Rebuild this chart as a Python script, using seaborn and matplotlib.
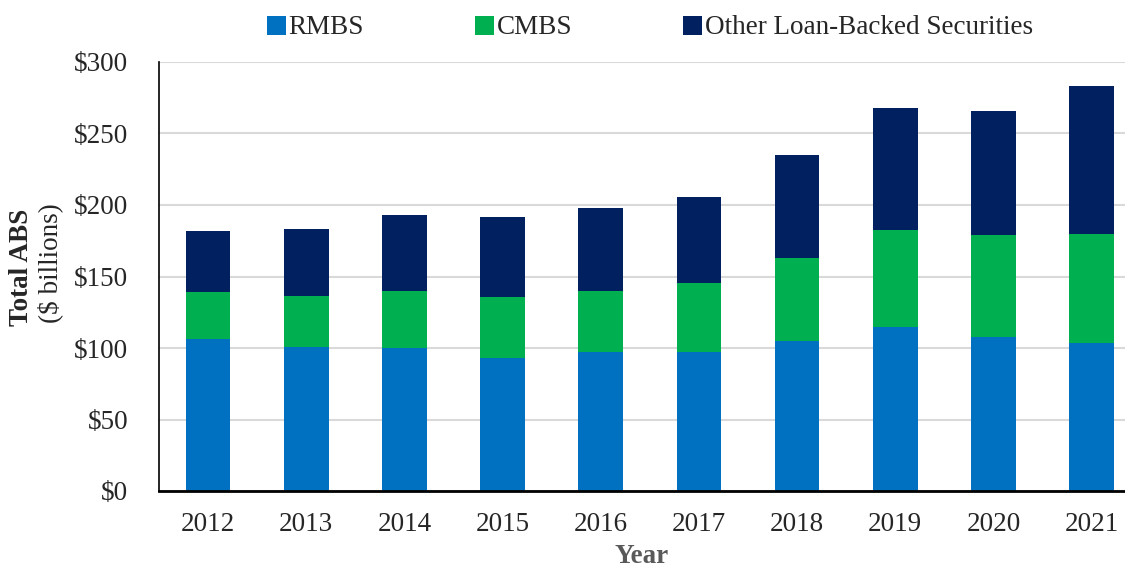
import pandas as pd
import seaborn as sns
import matplotlib.pyplot as plt
from matplotlib.patches import Patch

years = ["2012", "2013", "2014", "2015", "2016", "2017", "2018", "2019", "2020", "2021"]
rmbs = [106.3, 100.7, 100.2, 93.0, 97.0, 97.4, 104.7, 114.5, 107.7, 103.7]
cmbs = [32.7, 35.9, 39.4, 42.4, 42.6, 47.8, 58.2, 68.2, 71.3, 76.2]
other = [43.0, 46.6, 53.2, 56.0, 58.5, 60.6, 71.8, 84.9, 86.5, 103.1]
series = ["RMBS", "CMBS", "Other Loan-Backed Securities"]
colors = ["#0070C0", "#00B050", "#002060"]
y_ticks = [0, 50, 100, 150, 200, 250, 300]

df = pd.DataFrame({"year": years, "RMBS": rmbs, "CMBS": cmbs, "Other": other})
# stack by overdrawing cumulative totals
df["lvl2"] = df["RMBS"] + df["CMBS"]
df["lvl3"] = df["lvl2"] + df["Other"]

sns.set_theme(style="white")
plt.rcParams["font.family"] = ["Liberation Serif", "DejaVu Serif"]
fs = 19.5

fig = plt.figure(figsize=(11.25, 5.69), dpi=100)
ax = fig.add_axes([159 / 1125, 78 / 569, 1 - 159 / 1125, 429 / 569])

for col, c in zip(["lvl3", "lvl2", "RMBS"], colors[::-1]):
    sns.barplot(data=df, x="year", y=col, color=c, width=0.455, ax=ax,
                saturation=1, linewidth=0, zorder=2)

ax.set_xlim(-0.5, 9.34)
ax.set_ylim(0, 300)
ax.set_yticks(y_ticks)
ax.set_yticklabels(["${}".format(v) for v in y_ticks])
ax.yaxis.grid(True, color="#d9d9d9", linewidth=1.5, zorder=0)
ax.set_axisbelow(True)
ax.tick_params(axis="y", labelsize=fs, pad=22, length=0)
ax.tick_params(axis="x", labelsize=fs, pad=15, length=0)
for s in ["top", "right"]:
    ax.spines[s].set_visible(False)
ax.spines["left"].set_color("black")
ax.spines["left"].set_linewidth(1.2)
ax.spines["bottom"].set_color("black")
ax.spines["bottom"].set_linewidth(2)
ax.spines["bottom"].set_zorder(5)

ax.set_ylabel("")
ax.set_xlabel("Year", fontsize=fs, fontweight="bold", color="#595959", labelpad=5)

fig.text(22 / 1125, 1 - 267 / 569, "Total ABS", rotation=90, fontsize=fs,
         fontweight="bold", ha="center", va="center")
fig.text(50 / 1125, 1 - 263 / 569, "($ billions)", rotation=90, fontsize=fs,
         ha="center", va="center")

handles = [Patch(facecolor=c, edgecolor="none") for c in colors]
fig.legend(handles, series, loc="center", bbox_to_anchor=(650 / 1125, 1 - 28 / 569),
           ncol=3, frameon=False, fontsize=fs, handlelength=0.7, handleheight=0.7,
           handletextpad=0.1, columnspacing=4.1)

plt.savefig("out.png", dpi=100)
